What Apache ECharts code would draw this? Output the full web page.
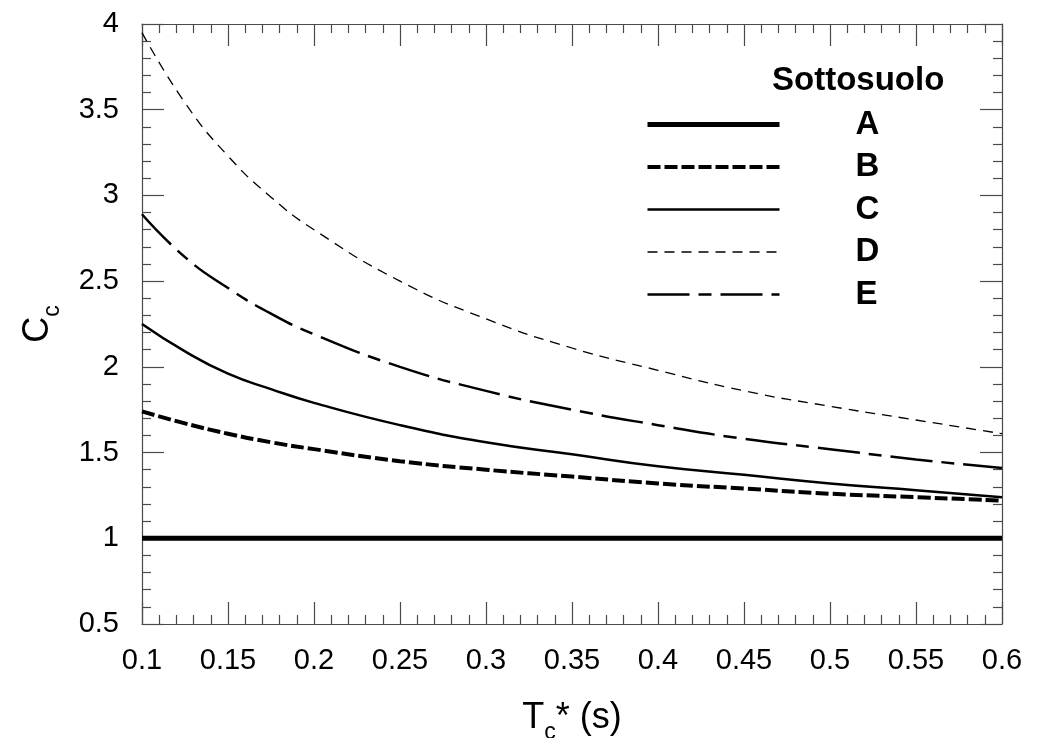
<!DOCTYPE html>
<html>
<head>
<meta charset="utf-8">
<script src="https://cdn.jsdelivr.net/npm/echarts@6/dist/echarts.min.js"></script>
<style>
  html, body { margin: 0; padding: 0; background: #fff; }
  #chart { width: 1039px; height: 738px; }
</style>
</head>
<body>
<div id="chart"></div>
<script>
// Tc* (s) sample points and Cc values
var tcValues = [0.1, 0.125, 0.15, 0.175, 0.2, 0.25, 0.3, 0.35, 0.4, 0.45, 0.5, 0.55, 0.6];
var ccA = [1, 1, 1, 1, 1, 1, 1, 1, 1, 1, 1, 1, 1];
var ccB = [1.74, 1.67, 1.61, 1.56, 1.52, 1.45, 1.40, 1.36, 1.32, 1.29, 1.26, 1.24, 1.22];
var ccC = [2.25, 2.09, 1.96, 1.87, 1.79, 1.66, 1.56, 1.49, 1.42, 1.37, 1.32, 1.28, 1.24];
var ccD = [3.95, 3.54, 3.23, 2.99, 2.80, 2.50, 2.28, 2.11, 1.98, 1.86, 1.77, 1.69, 1.61];
var ccE = [2.89, 2.64, 2.46, 2.31, 2.19, 2.00, 1.86, 1.75, 1.66, 1.58, 1.52, 1.46, 1.41];
var soilClasses = ['A', 'B', 'C', 'D', 'E'];

var font = 'Liberation Sans, Arial, sans-serif';
var axisColor = '#4a4a4a';

function pairs(ys) {
    return tcValues.map(function (x, i) { return [x, ys[i]]; });
}

// frame axes: inward major + minor ticks on all four sides
function frameAxis(extra) {
    var base = {
        type: 'value',
        splitLine: { show: false },
        axisLine: { show: true, lineStyle: { color: axisColor, width: 1.2 } },
        axisTick: { show: true, inside: true, length: 22, lineStyle: { color: axisColor, width: 1.2 } },
        minorTick: { show: true, splitNumber: 5, length: 9, lineStyle: { color: axisColor, width: 1.2 } },
        minorSplitLine: { show: false }
    };
    return Object.assign(base, extra);
}

var nameRich = {
    t: { fontFamily: font, fontSize: 36, color: '#000', lineHeight: 40, verticalAlign: 'bottom', padding: [0, 0, 8, 0] },
    s: { fontFamily: font, fontSize: 23, color: '#000', lineHeight: 23, verticalAlign: 'bottom', padding: [25, 0, 0, 0] }
};

var myChart = echarts.init(document.getElementById('chart'));

var lineStyles = {
    A: { color: '#000', width: 5, type: 'solid' },
    B: { color: '#000', width: 4, type: [13, 4] },
    C: { color: '#000', width: 2.5, type: 'solid' },
    D: { color: '#000', width: 1.3, type: [10, 7] },
    E: { color: '#000', width: 2.5, type: [42, 9, 13, 9] }
};
var seriesData = { A: ccA, B: ccB, C: ccC, D: ccD, E: ccE };

myChart.setOption({
    backgroundColor: '#fff',
    animation: false,
    textStyle: { fontFamily: font },
    grid: { left: 142, right: 37, top: 24, bottom: 114, outerBoundsMode: 'none' },
    title: {
        text: 'Sottosuolo',
        left: 772,
        top: 64,
        padding: 0,
        textStyle: { fontFamily: font, fontSize: 33, fontWeight: 'bold', color: '#000' }
    },
    legend: {
        orient: 'vertical',
        left: 645,
        top: 108,
        padding: 0,
        itemWidth: 132,
        itemHeight: 30,
        itemGap: 9.5,
        selectedMode: false,
        data: soilClasses,
        itemStyle: { opacity: 0, borderWidth: 0 },
        lineStyle: { width: 'inherit', type: 'inherit' },
        textStyle: {
            fontFamily: font, fontSize: 33, fontWeight: 'bold', color: '#000',
            padding: [0, 0, 0, 71]
        }
    },
    xAxis: [
        frameAxis({
            position: 'bottom',
            min: 0.1, max: 0.6, interval: 0.05,
            axisLabel: { margin: 22, fontSize: 29, color: '#000', fontFamily: font },
            name: '{t|T}{s|c}{t|* (s)}',
            nameLocation: 'middle',
            nameGap: 80,
            nameTextStyle: { rich: nameRich }
        }),
        frameAxis({
            position: 'top',
            min: 0.1, max: 0.6, interval: 0.05,
            axisLabel: { show: false }
        })
    ],
    yAxis: [
        frameAxis({
            position: 'left',
            min: 0.5, max: 4, interval: 0.5,
            axisLabel: { margin: 23, fontSize: 29, color: '#000', fontFamily: font },
            name: '{t|C}{s|c}',
            nameLocation: 'middle',
            nameGap: 78,
            nameTextStyle: { rich: nameRich }
        }),
        frameAxis({
            position: 'right',
            min: 0.5, max: 4, interval: 0.5,
            axisLabel: { show: false }
        })
    ],
    series: soilClasses.map(function (k) {
        return {
            name: k,
            type: 'line',
            xAxisIndex: 0,
            yAxisIndex: 0,
            data: pairs(seriesData[k]),
            smooth: 0.5,
            symbol: 'none',
            clip: true,
            itemStyle: { color: '#000' },
            lineStyle: lineStyles[k]
        };
    })
});
</script>
</body>
</html>
